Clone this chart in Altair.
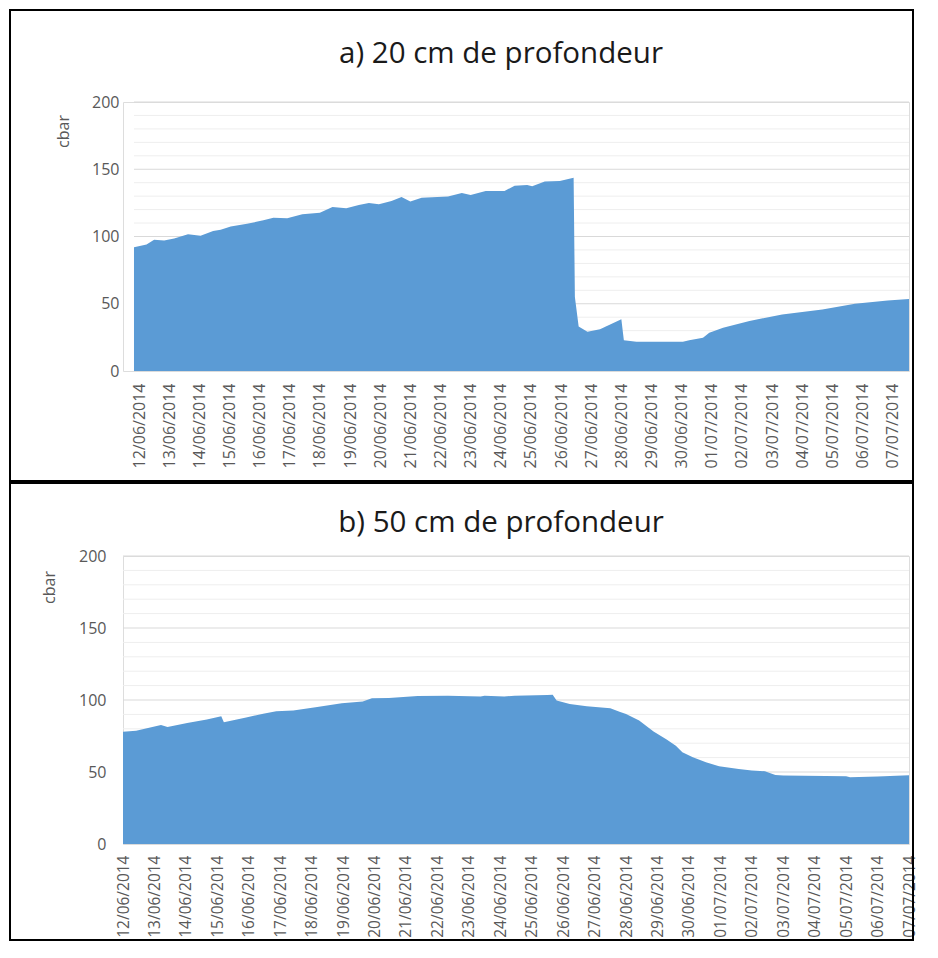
import altair as alt
import pandas as pd
from datetime import datetime

# ---- data ----
top_times = [
    "2014-06-11T20:00", "2014-06-12T06:00", "2014-06-12T12:00", "2014-06-12T20:00",
    "2014-06-13T04:00", "2014-06-13T15:00", "2014-06-14T01:00", "2014-06-14T11:00",
    "2014-06-14T17:00", "2014-06-15T01:00", "2014-06-15T14:00", "2014-06-16T03:00",
    "2014-06-16T11:00", "2014-06-16T22:00", "2014-06-17T10:00", "2014-06-18T00:00",
    "2014-06-18T10:00", "2014-06-18T21:00", "2014-06-19T07:00", "2014-06-19T15:00",
    "2014-06-19T23:00", "2014-06-20T09:00", "2014-06-20T17:00", "2014-06-21T00:00",
    "2014-06-21T09:00", "2014-06-22T06:00", "2014-06-22T17:00", "2014-06-23T00:00",
    "2014-06-23T12:00", "2014-06-24T03:00", "2014-06-24T11:00", "2014-06-24T21:00",
    "2014-06-25T01:00", "2014-06-25T11:00", "2014-06-25T23:00", "2014-06-26T10:00",
    "2014-06-26T11:00", "2014-06-26T14:00", "2014-06-26T21:00", "2014-06-27T07:00",
    "2014-06-28T00:00", "2014-06-28T02:00", "2014-06-28T12:00", "2014-06-30T01:00",
    "2014-06-30T06:00", "2014-06-30T17:00", "2014-06-30T22:00", "2014-07-01T09:00",
    "2014-07-02T06:00", "2014-07-03T08:00", "2014-07-04T16:00", "2014-07-05T18:00",
    "2014-07-06T20:00", "2014-07-07T13:00",
]
top_values = [
    92, 94, 97.6, 97,
    98.6, 101.6, 100.6, 104,
    105, 107.5, 109.5, 112,
    114, 113.5, 116.5, 117.7,
    122, 121, 123.4, 125,
    124, 126.4, 129.4, 126,
    128.9, 129.8, 132.3, 130.9,
    133.8, 133.8, 137.8, 138.3,
    137.3, 140.8, 141.3, 143.7,
    55, 33, 29.2, 31,
    38.4, 22.8, 21.8, 21.8,
    22.8, 24.8, 28.5, 32.2,
    37.2, 42.1, 45.8, 50,
    52.5, 53.5,
]

bottom_times = [
    "2014-06-12T00:00", "2014-06-12T10:00", "2014-06-13T05:00", "2014-06-13T10:00",
    "2014-06-14T01:00", "2014-06-14T16:00", "2014-06-15T03:00", "2014-06-15T05:00",
    "2014-06-15T22:00", "2014-06-16T11:00", "2014-06-16T21:00", "2014-06-17T10:00",
    "2014-06-18T03:00", "2014-06-18T23:00", "2014-06-19T15:00", "2014-06-19T22:00",
    "2014-06-20T11:00", "2014-06-21T09:00", "2014-06-22T08:00", "2014-06-23T09:00",
    "2014-06-23T12:00", "2014-06-24T03:00", "2014-06-24T11:00", "2014-06-25T12:00",
    "2014-06-25T16:00", "2014-06-25T19:00", "2014-06-26T05:00", "2014-06-26T18:00",
    "2014-06-27T12:00", "2014-06-27T19:00", "2014-06-28T00:00", "2014-06-28T10:00",
    "2014-06-28T21:00", "2014-06-29T07:00", "2014-06-29T14:00", "2014-06-29T19:00",
    "2014-06-30T03:00", "2014-06-30T13:00", "2014-06-30T23:00", "2014-07-01T14:00",
    "2014-07-02T00:00", "2014-07-02T10:00", "2014-07-02T18:00", "2014-07-03T00:00",
    "2014-07-05T00:00", "2014-07-05T03:00", "2014-07-06T00:00", "2014-07-07T00:00",
]
bottom_values = [
    78, 78.7, 82.7, 81.3,
    84.1, 86.5, 88.8, 84.6,
    87.9, 90.4, 92.2, 92.7,
    95, 97.7, 98.9, 101.2,
    101.4, 102.8, 103, 102.4,
    103, 102.4, 103, 103.5,
    103.7, 99.6, 97.2, 95.6,
    94.2, 91.9, 90.3, 85.7,
    78.1, 72.5, 68.3, 63.7,
    60.2, 56.7, 54, 52.1,
    51, 50.5, 48, 47.5,
    47, 46.3, 46.8, 47.8,
]

tick_dates = [
    "2014-06-12T00:00", "2014-06-13T00:00", "2014-06-14T00:00", "2014-06-15T00:00",
    "2014-06-16T00:00", "2014-06-17T00:00", "2014-06-18T00:00", "2014-06-19T00:00",
    "2014-06-20T00:00", "2014-06-21T00:00", "2014-06-22T00:00", "2014-06-23T00:00",
    "2014-06-24T00:00", "2014-06-25T00:00", "2014-06-26T00:00", "2014-06-27T00:00",
    "2014-06-28T00:00", "2014-06-29T00:00", "2014-06-30T00:00", "2014-07-01T00:00",
    "2014-07-02T00:00", "2014-07-03T00:00", "2014-07-04T00:00", "2014-07-05T00:00",
    "2014-07-06T00:00", "2014-07-07T00:00",
]
y_labels = [0, 50, 100, 150, 200]
y_grid = [0, 10, 20, 30, 40, 50, 60, 70, 80, 90, 100, 110, 120, 130, 140, 150,
          160, 170, 180, 190, 200]

titles = ["a) 20 cm de profondeur", "b) 50 cm de profondeur"]

FILL = "#5B9BD5"
FONT = "Open Sans"


def dt(s):
    d = datetime.fromisoformat(s)
    return alt.DateTime(year=d.year, month=d.month, date=d.day, hours=d.hour, minutes=d.minute)


def panel(times, values, title, width, height, domain, box, title_pos, grid_start,
          label_pad_y, label_pad_x, x_font, ytitle_pos):
    df = pd.DataFrame({"t": times, "v": values})
    yscale = alt.Scale(domain=[0, 200], nice=False)
    x_axis = alt.Axis(values=[dt(s) for s in tick_dates], format="%d/%m/%Y",
                      labelAngle=-90, labelFontSize=x_font, labelColor="#595959",
                      labelFont=FONT, labelPadding=label_pad_x, ticks=False,
                      domain=False, grid=False, title=None, labelOverlap=False,
                      labelFlush=False, labelBound=False)
    y_axis = alt.Axis(values=y_labels, grid=False, ticks=False, domain=False,
                      labelFontSize=16, labelColor="#595959", labelFont=FONT,
                      labelPadding=label_pad_y, labelOverlap=False,
                      title="cbar", titleAngle=-90, titleX=ytitle_pos[0],
                      titleY=ytitle_pos[1], titleAlign="center",
                      titleBaseline="middle", titleFontSize=16,
                      titleFontWeight="normal", titleColor="#595959", titleFont=FONT)
    grid = alt.Chart(pd.DataFrame({"v": y_grid})).mark_rule(strokeWidth=1).encode(
        y=alt.Y("v:Q", scale=yscale, axis=y_axis),
        x=alt.value(grid_start), x2=alt.value(width),
        color=alt.condition("datum.v % 50 === 0", alt.value("#d9d9d9"),
                            alt.value("#eeeeee")),
    )
    area = alt.Chart(df).mark_area(color=FILL, interpolate="linear").encode(
        x=alt.X("t:T", scale=alt.Scale(domain=[dt(domain[0]), dt(domain[1])], nice=False),
                axis=x_axis),
        y=alt.Y("v:Q", scale=yscale, axis=y_axis),
    )
    one = pd.DataFrame({"label": [title]})
    left, right, top_, bottom_ = box
    frame = alt.Chart(one).mark_rect(fill=None, stroke="black", strokeWidth=2).encode(
        x=alt.value(left), x2=alt.value(right),
        y=alt.value(top_), y2=alt.value(bottom_))
    head = alt.Chart(one).mark_text(
        font=FONT, fontSize=29.5, color="#1a1a1a", align="center", baseline="alphabetic"
    ).encode(
        text="label:N", x=alt.value(title_pos[0]), y=alt.value(title_pos[1]),
    )
    return alt.layer(grid, area, frame, head).properties(width=width, height=height)


top = panel(top_times, top_values, titles[0], 786, 269,
            ("2014-06-11T11:15", "2014-07-07T13:00"),
            (-113, 790, -92, 379), (378, -39), 11, 4, 12, 16, (-60, 29))
bottom = panel(bottom_times, bottom_values, titles[1], 786, 288,
               ("2014-06-12T00:00", "2014-07-07T00:00"),
               (-113, 790, -73, 384), (378, -24), 0, 17, 11, 15.5, (-74, 31))

chart = alt.vconcat(top, bottom, spacing=-2).properties(padding=0).configure_view(
    stroke=None, strokeWidth=0, strokeOpacity=0
).configure(background="white")

chart.save("out.html", embed_options={"renderer": "svg", "actions": False})
